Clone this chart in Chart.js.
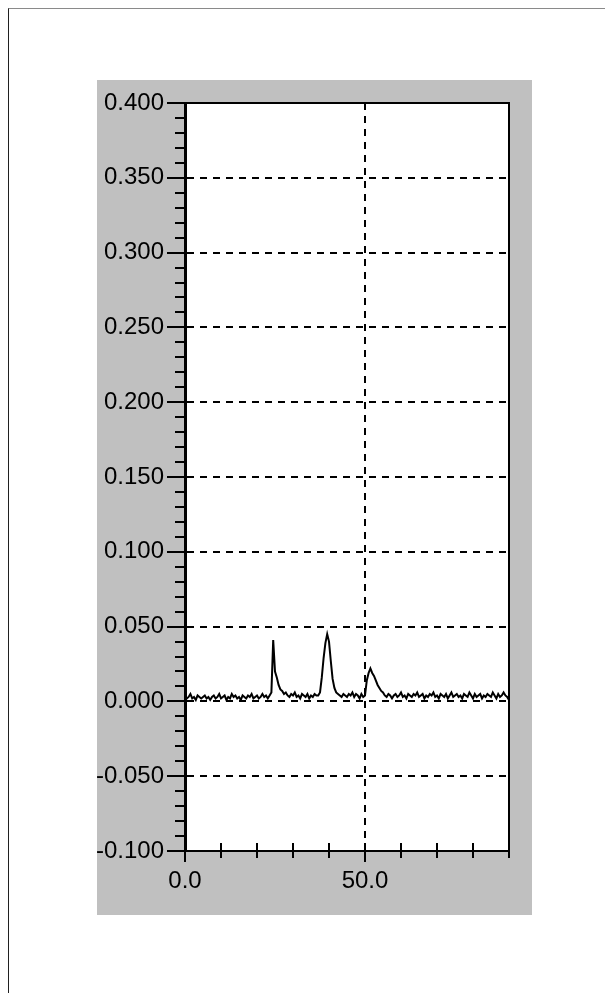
<!DOCTYPE html>
<html>
<head>
<meta charset="utf-8">
<script src="https://cdn.jsdelivr.net/npm/chart.js@4"></script>
<style>
    html, body { margin: 0; padding: 0; background: #fff; }
    body { width: 605px; height: 993px; position: relative; overflow: hidden; }
    #frame { position: absolute; left: 8px; top: 8px; right: 0; bottom: 0;
             border-top: 1px solid #8a8a8a; border-left: 1px solid #202020; }
    #panel { position: absolute; left: 97px; top: 80px; width: 435px; height: 835px; background: #c0c0c0; }
    #chart { position: absolute; left: 0; top: 0; }
</style>
</head>
<body>
<div id="frame"></div>
<div id="panel"><canvas id="chart" width="435" height="835"></canvas></div>
<script>
// sampled trace, one reading every 0.5 units of x
const timeStep = 0.5;
const absorbance = [
    0.004, 0.002, 0.003, 0.005, 0.002, 0.003, 0.001, 0.004, 0.003, 0.002,
    0.003, 0.004, 0.002, 0.003, 0.001, 0.003, 0.004, 0.002, 0.003, 0.005,
    0.002, 0.003, 0.004, 0.001, 0.003, 0.002, 0.005, 0.003, 0.004, 0.002,
    0.003, 0.001, 0.004, 0.003, 0.002, 0.004, 0.003, 0.005, 0.002, 0.003,
    0.004, 0.002, 0.003, 0.005, 0.003, 0.004, 0.002, 0.004,
    0.006, 0.041, 0.020, 0.016, 0.011, 0.008, 0.007, 0.005, 0.006, 0.004,
    0.003, 0.005, 0.004, 0.006, 0.003, 0.004, 0.002, 0.005, 0.004, 0.003,
    0.005, 0.002, 0.004, 0.003, 0.005, 0.004,
    0.004, 0.006, 0.016, 0.029, 0.039, 0.045, 0.040, 0.027, 0.015, 0.009, 0.006, 0.005,
    0.004, 0.003, 0.005, 0.004, 0.003, 0.005, 0.004, 0.006, 0.003, 0.005,
    0.004, 0.002, 0.005, 0.003,
    0.004, 0.014, 0.019, 0.022, 0.019, 0.017, 0.014, 0.011, 0.009, 0.007, 0.006, 0.004,
    0.003, 0.005, 0.004, 0.002, 0.004, 0.005, 0.003, 0.004, 0.006, 0.003,
    0.004, 0.002, 0.005, 0.004, 0.003, 0.005, 0.004, 0.006, 0.003, 0.004,
    0.005, 0.002, 0.004, 0.003, 0.005, 0.004, 0.006, 0.003, 0.004, 0.002,
    0.005, 0.004, 0.003, 0.005, 0.002, 0.004, 0.006, 0.003, 0.004, 0.005,
    0.003, 0.004, 0.002, 0.005, 0.004, 0.003, 0.006, 0.004, 0.002, 0.005,
    0.003, 0.004, 0.005, 0.002, 0.004, 0.003, 0.005, 0.004, 0.003, 0.006,
    0.004, 0.002, 0.005, 0.003, 0.004, 0.006, 0.004, 0.003, 0.001
];

const xMin = 0, xMax = 90, xStep = 10, xLabelEvery = 50;
const yMin = -0.1, yMax = 0.4, yStep = 0.05, yMinorStep = 0.01;
const xGridAt = [50];

const points = absorbance.map((v, i) => ({ x: i * timeStep, y: v }));

// white plot background
const plotBg = {
    id: 'plotBg',
    beforeDraw(chart) {
        const { ctx, chartArea: a } = chart;
        ctx.save();
        ctx.fillStyle = '#fff';
        ctx.fillRect(a.left, a.top, a.right - a.left, a.bottom - a.top);
        ctx.restore();
    }
};

// ticks that cross the axis lines, plus the top/right frame
const axisTicks = {
    id: 'axisTicks',
    afterDraw(chart) {
        const { ctx, chartArea: a, scales: { x, y } } = chart;
        ctx.save();
        ctx.strokeStyle = '#000';
        ctx.lineWidth = 2;
        ctx.beginPath();
        ctx.moveTo(a.left, a.top);
        ctx.lineTo(a.right, a.top);
        ctx.lineTo(a.right, a.bottom);
        ctx.stroke();

        ctx.beginPath();
        const nY = Math.round((yMax - yMin) / yMinorStep);
        for (let i = 0; i <= nY; i++) {
            const py = Math.round(y.getPixelForValue(yMin + i * yMinorStep));
            const major = i % Math.round(yStep / yMinorStep) === 0;
            ctx.moveTo(a.left - (major ? 18 : 10), py);
            ctx.lineTo(a.left + (major ? 7 : 0), py);
        }
        const nX = Math.round((xMax - xMin) / xStep);
        for (let i = 0; i <= nX; i++) {
            const v = xMin + i * xStep;
            const px = Math.round(x.getPixelForValue(v));
            const major = v % xLabelEvery === 0;
            ctx.moveTo(px, a.bottom - 8);
            ctx.lineTo(px, a.bottom + (major ? 11 : 7));
        }
        ctx.stroke();
        ctx.restore();
    }
};

const labelFont = { family: 'Liberation Sans', size: 24 };

const noPad = s => {
    s.paddingTop = 0; s.paddingBottom = 0;
    s.paddingLeft = 0; s.paddingRight = 0;
};

new Chart(document.getElementById('chart'), {
    type: 'line',
    data: {
        datasets: [{
            data: points,
            borderColor: '#000',
            borderWidth: 2,
            pointRadius: 0,
            tension: 0,
            fill: false
        }]
    },
    options: {
        responsive: false,
        animation: false,
        devicePixelRatio: 1,
        layout: { padding: { top: 23, right: 23, left: 0, bottom: 0 } },
        plugins: { legend: { display: false }, tooltip: { enabled: false } },
        scales: {
            x: {
                type: 'linear',
                min: xMin, max: xMax,
                afterFit: s => { s.height = 64; noPad(s); },
                ticks: {
                    stepSize: xStep,
                    autoSkip: false,
                    maxRotation: 0,
                    color: '#000',
                    font: labelFont,
                    padding: 16,
                    callback: v => (v % xLabelEvery === 0 ? v.toFixed(1) : '')
                },
                grid: {
                    drawTicks: false,
                    lineWidth: 2,
                    color: c => (c.tick && xGridAt.includes(c.tick.value) ? '#000' : 'rgba(0,0,0,0)')
                },
                border: { color: '#000', width: 2, dash: [7, 6] }
            },
            y: {
                min: yMin, max: yMax,
                afterFit: s => { s.width = 88; noPad(s); },
                ticks: {
                    stepSize: yStep,
                    autoSkip: false,
                    color: '#000',
                    font: labelFont,
                    padding: 21,
                    callback: v => (Math.abs(v) < 1e-9 ? 0 : v).toFixed(3)
                },
                grid: {
                    drawTicks: false,
                    lineWidth: 2,
                    color: c => {
                        const v = c.tick ? c.tick.value : 0;
                        return Math.abs(v - yMin) < 1e-9 || Math.abs(v - yMax) < 1e-9 ? 'rgba(0,0,0,0)' : '#000';
                    }
                },
                border: { color: '#000', width: 3, dash: [7, 6] }
            }
        }
    },
    plugins: [plotBg, axisTicks]
});
</script>
</body>
</html>
